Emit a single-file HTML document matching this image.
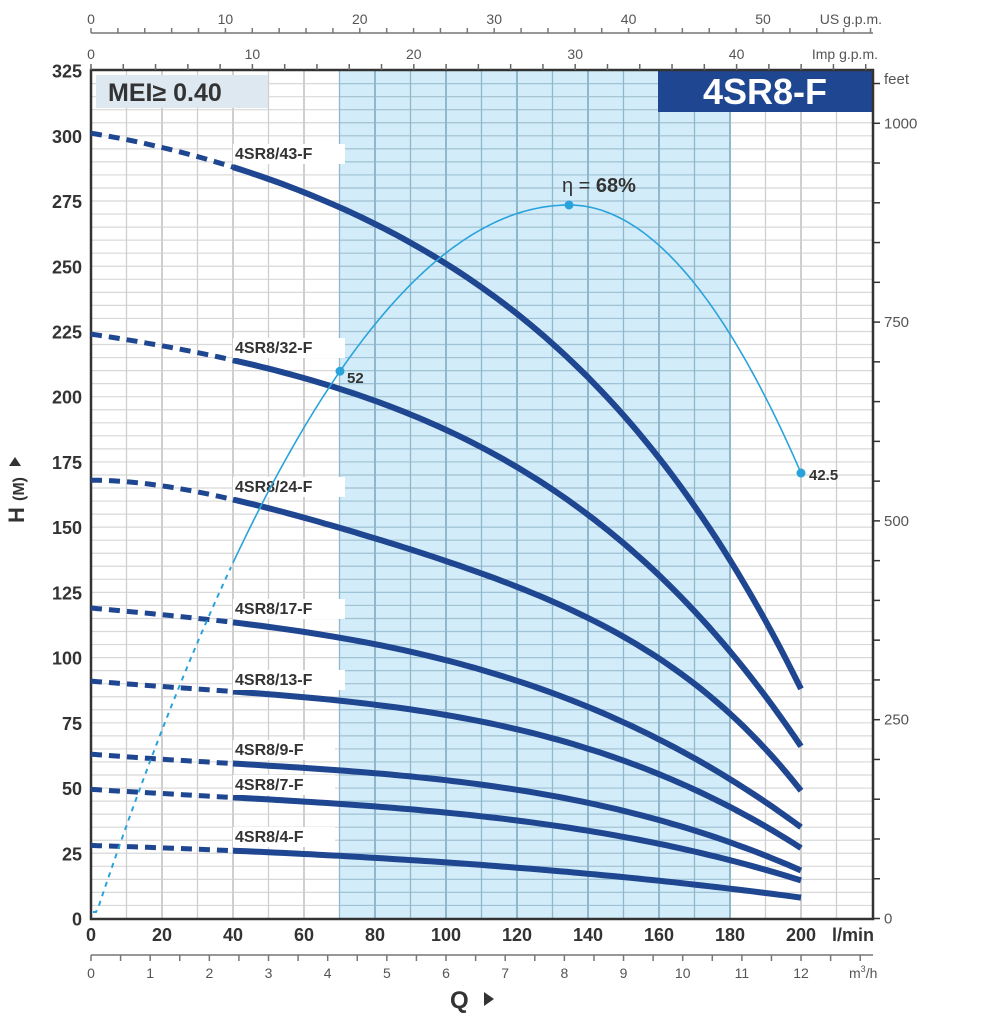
<!DOCTYPE html>
<html><head><meta charset="utf-8">
<style>
body{margin:0;background:#fff;}
svg{display:block;font-family:"Liberation Sans",sans-serif;}
</style></head><body>
<svg id="s" width="1000" height="1013" viewBox="0 0 1000 1013" xmlns="http://www.w3.org/2000/svg"></svg>
<script>
const s=document.getElementById('s');
let h='';
const X=q=>91+q*3.55, Y=H=>918.5-H*2.609;
h+=`<rect x="${X(70)}" y="70" width="${X(180)-X(70)}" height="849" fill="#d3ecf9"/>`;
for(let m=5;m<325;m+=5){h+=`<line x1="91" x2="873" y1="${Y(m)}" y2="${Y(m)}" stroke="#d8d8d8" stroke-width="1.2"/>`;}
for(let m=5;m<325;m+=5){h+=`<line x1="${X(70)}" x2="${X(180)}" y1="${Y(m)}" y2="${Y(m)}" stroke="#9fc3d6" stroke-width="1.2"/>`;}
for(let q=10;q<220;q+=10){const inb=q>=70&&q<=180;h+=`<line x1="${X(q)}" x2="${X(q)}" y1="70" y2="919" stroke="${inb?'#90b8cc':'#cfcfcf'}" stroke-width="${q%20==0?2:1.3}"/>`;}
h+=`<rect x="96" y="75" width="172" height="33" fill="#dde8f0"/><text x="108" y="101" font-size="25" font-weight="bold" fill="#333">MEI≥ 0.40</text>`;
h+=`<rect x="658" y="70" width="215" height="42" fill="#1f4690"/><text x="765" y="104" text-anchor="middle" font-size="36" font-weight="bold" fill="#fff">4SR8-F</text>`;
h+=`<path d="M91 70 H873 V919 H91 Z" fill="none" stroke="#333" stroke-width="2.5"/>`;
for(let m=0;m<=325;m+=25){h+=`<text x="82" y="${Y(m)+7}" text-anchor="end" font-size="18" font-weight="bold" fill="#333">${m}</text>`;}
for(let q=0;q<=200;q+=20){h+=`<text x="${X(q)}" y="941" text-anchor="middle" font-size="18" font-weight="bold" fill="#333">${q}</text>`;}
h+=`<text x="832" y="941" font-size="18" font-weight="bold" fill="#333">l/min</text>`;
h+=`<line x1="91" x2="873" y1="955" y2="955" stroke="#777" stroke-width="1.5"/>`;
for(let k=0;k<=26;k++){const x=91+k*0.5*59.17;if(x>874)break;h+=`<line x1="${x}" x2="${x}" y1="955" y2="961" stroke="#777" stroke-width="1.5"/>`;if(k%2==0&&k<=24)h+=`<text x="${x}" y="978" text-anchor="middle" font-size="14" fill="#555">${k/2}</text>`;}
h+=`<text x="849" y="978" font-size="14" fill="#555">m<tspan dy="-6" font-size="9">3</tspan><tspan dy="6">/h</tspan></text>`;
h+=`<text x="450" y="1008" font-size="24" font-weight="bold" fill="#333">Q</text><path d="M484 992 L494 999 L484 1006Z" fill="#333"/>`;
h+=`<g transform="translate(24,500) rotate(-90)"><text x="0" y="0" text-anchor="middle" font-size="22" font-weight="bold" fill="#333">H <tspan font-size="16">(M)</tspan></text></g>`;
h+=`<path d="M9 466 L15 457 L21 466Z" fill="#333"/>`;
h+=`<line x1="91" x2="873" y1="70" y2="70" stroke="#333"/>`;
for(let k=0;k<=48;k+=2){const x=91+k*16.14;if(x>874)break;h+=`<line x1="${x}" x2="${x}" y1="64" y2="70" stroke="#666" stroke-width="1.5"/>`;if(k%10==0&&k<=40)h+=`<text x="${x}" y="59" text-anchor="middle" font-size="14" fill="#555">${k}</text>`;}
h+=`<text x="878" y="59" text-anchor="end" font-size="14" fill="#555">Imp g.p.m.</text>`;
h+=`<line x1="91" x2="873" y1="33" y2="33" stroke="#777" stroke-width="1.5"/>`;
for(let k=0;k<=58;k+=2){const x=91+k*13.44;if(x>874)break;h+=`<line x1="${x}" x2="${x}" y1="28" y2="33" stroke="#777" stroke-width="1.5"/>`;if(k%10==0&&k<=50)h+=`<text x="${x}" y="24" text-anchor="middle" font-size="14" fill="#555">${k}</text>`;}
h+=`<text x="882" y="24" text-anchor="end" font-size="14" fill="#555">US g.p.m.</text>`;
for(let f=0;f<=1100;f+=50){const y=918.5-f*0.3048*2.609;if(y<75)break;h+=`<line x1="873" x2="880" y1="${y}" y2="${y}" stroke="#333" stroke-width="1.5"/>`;if(f%250==0)h+=`<text x="884" y="${y+5}" font-size="15" fill="#555">${f}</text>`;}
h+=`<text x="884" y="84" font-size="15" fill="#555">feet</text>`;
function lag(pts,q){let r=0;for(let i=0;i<pts.length;i++){let t=pts[i][1];for(let j=0;j<pts.length;j++)if(j!=i)t*=(q-pts[j][0])/(pts[i][0]-pts[j][0]);r+=t;}return r;}
const C=[
["43",[[0,301],[40,288],[115,237],[162,173],[200,88]],159],
["32",[[0,224],[40,214],[120,173],[179,104],[200,66]],353],
["24",[[0,168],[40,160.6],[100,137],[155,104],[200,49]],492],
["17",[[0,119],[40,113.5],[100,99],[200,35]],614],
["13",[[0,91],[40,87],[100,78],[200,27]],685],
["9",[[0,63],[40,59.4],[100,53],[200,18.4]],755],
["7",[[0,49.5],[40,46.4],[100,40.6],[200,14.6]],790],
["4",[[0,28],[40,26],[100,21.5],[200,8]],842]];
C.forEach(c=>{let d='',e='';for(let q=0;q<=40;q+=2)d+=(q?'L':'M')+X(q).toFixed(1)+' '+Y(lag(c[1],q)).toFixed(1);
for(let q=40;q<=200;q+=2)e+=(q>40?'L':'M')+X(q).toFixed(1)+' '+Y(lag(c[1],q)).toFixed(1);
h+=`<path d="${d}" fill="none" stroke="#1f4690" stroke-width="5" stroke-dasharray="11 7"/>`;
h+=`<path d="${e}" fill="none" stroke="#1f4690" stroke-width="6"/>`;
h+=`<rect x="233" y="${c[2]-15}" width="${c[0].length>1?112:102}" height="20" fill="#fff"/>`;
h+=`<text x="235" y="${c[2]}" font-size="16" font-weight="bold" fill="#333">4SR8/${c[0]}-F</text>`;});
function ey(x){return x<569?205+0.00317*(x-569)**2:205+0.00498*(x-569)**2;}
let d1='',d2='';for(let x=93;x<=233;x+=3)d1+=(x>93?'L':'M')+x+' '+Math.min(ey(x),912).toFixed(1);
for(let x=233;x<=801;x+=3)d2+=(x>233?'L':'M')+x+' '+ey(x).toFixed(1);
h+=`<path d="${d1}" fill="none" stroke="#2aa3dc" stroke-width="2" stroke-dasharray="5 5"/>`;
h+=`<path d="${d2}L801 ${ey(801)}" fill="none" stroke="#2aa3dc" stroke-width="1.6"/>`;
h+=`<circle cx="340" cy="${ey(340)}" r="4.5" fill="#2aa3dc"/><circle cx="569" cy="205" r="4.5" fill="#2aa3dc"/><circle cx="801" cy="${ey(801)}" r="4.5" fill="#2aa3dc"/>`;
h+=`<text x="347" y="383" font-size="15" font-weight="bold" fill="#333">52</text>`;
h+=`<text x="809" y="480" font-size="15" font-weight="bold" fill="#333">42.5</text>`;
h+=`<text x="562" y="192" font-size="20" font-weight="bold" fill="#333"><tspan font-weight="normal">η =</tspan> 68%</text>`;
s.innerHTML=h;
</script>
</body></html>
